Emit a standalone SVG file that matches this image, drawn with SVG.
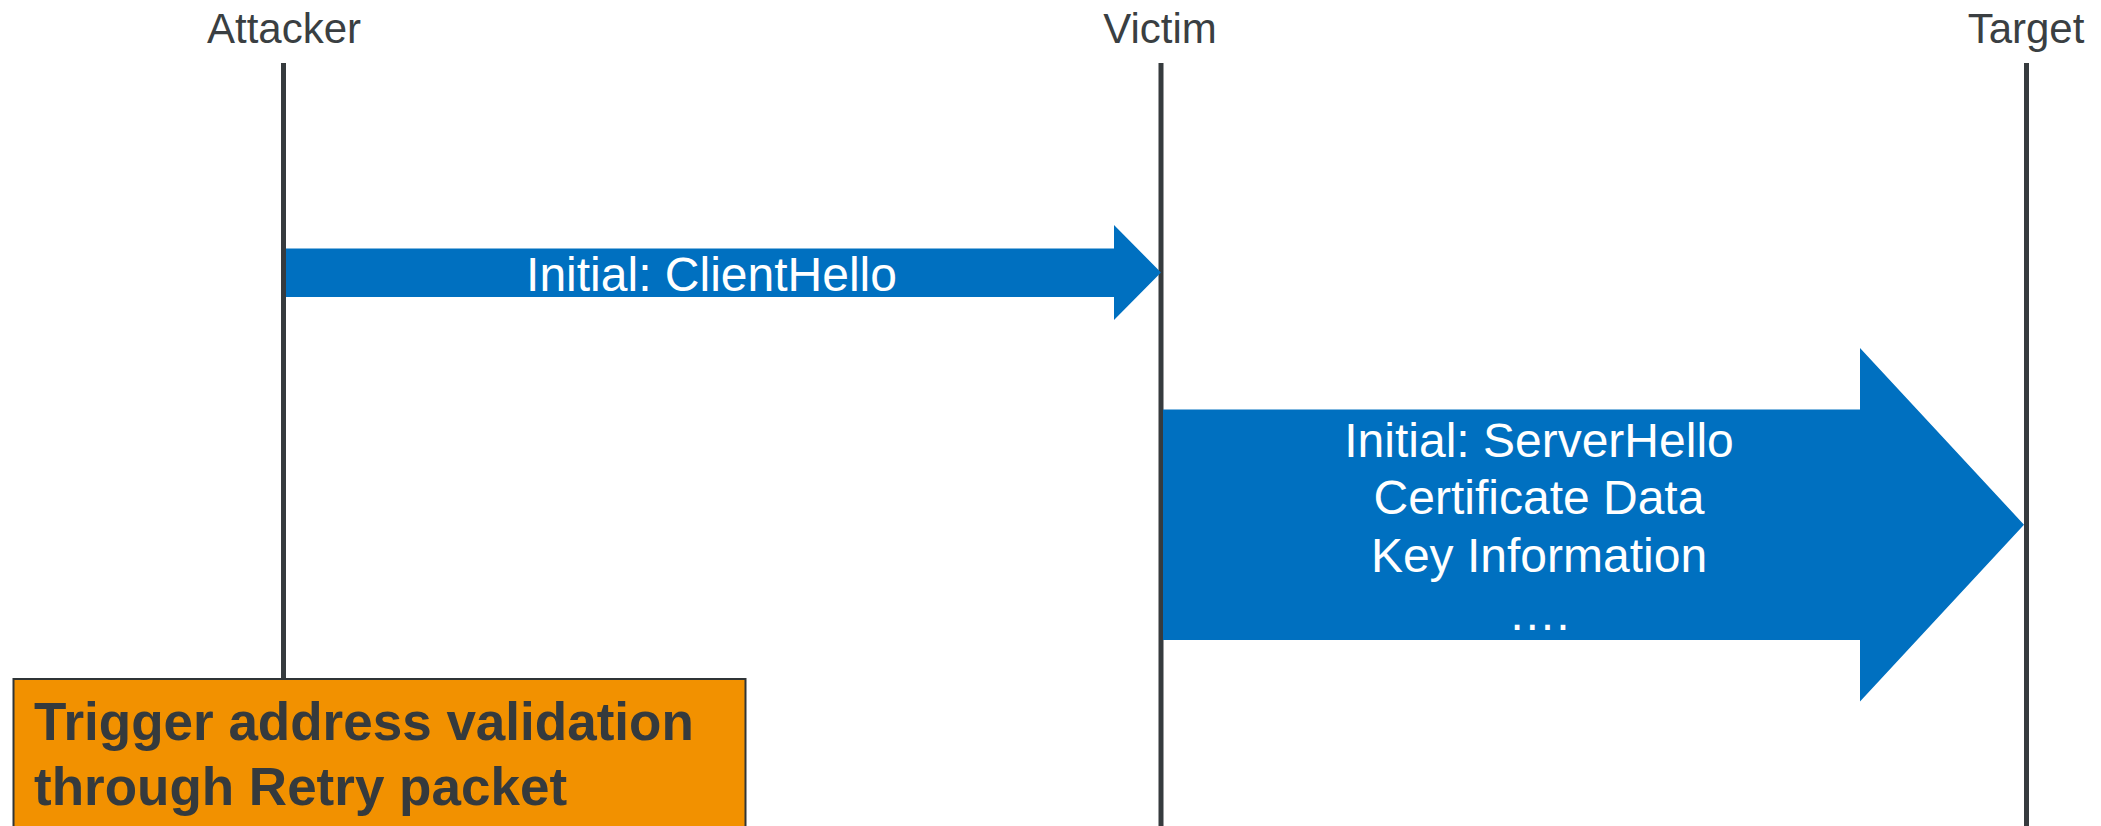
<svg xmlns="http://www.w3.org/2000/svg" width="2101" height="826" viewBox="0 0 2101 826">
  <style>
    .lifeline { stroke: #363b3e; stroke-width: 5; fill: none; }
    .actor { font-family: "Liberation Sans", Arial, sans-serif; font-size: 42px; fill: #3a3f42; text-anchor: middle; }
    .msg { fill: #0070c0; }
    .msg-text { font-family: "Liberation Sans", Arial, sans-serif; font-size: 48px; fill: #ffffff; text-anchor: middle; }
    .note { fill: #f29100; stroke: #2f3436; stroke-width: 2; }
    .note-text { font-family: "Liberation Sans", Arial, sans-serif; font-size: 53px; font-weight: bold; fill: #353a3d; }
  </style>

  <!-- Participants with their lifelines -->
  <g id="attacker">
    <text class="actor" x="284" y="43">Attacker</text>
    <line class="lifeline" x1="283.5" y1="63" x2="283.5" y2="679"/>
  </g>
  <g id="victim">
    <text class="actor" x="1160" y="43">Victim</text>
    <line class="lifeline" x1="1161" y1="63" x2="1161" y2="826"/>
  </g>
  <g id="target">
    <text class="actor" x="2026" y="43">Target</text>
    <line class="lifeline" x1="2026.5" y1="63" x2="2026.5" y2="826"/>
  </g>

  <!-- Messages drawn as block arrows -->
  <g id="connectors">
    <g id="client-hello">
      <polygon class="msg" points="286,248.5 1114,248.5 1114,225 1161,272.5 1114,320 1114,297 286,297"/>
      <text class="msg-text" x="711.5" y="291">Initial: ClientHello</text>
    </g>
    <g id="server-hello">
      <polygon class="msg" points="1163,409.5 1860,409.5 1860,348 2024,524.7 1860,701.5 1860,640 1163,640"/>
      <text class="msg-text" x="1539" y="456.5">Initial: ServerHello</text>
      <text class="msg-text" x="1539" y="514">Certificate Data</text>
      <text class="msg-text" x="1539" y="571.5">Key Information</text>
      <text class="msg-text" x="1539" y="630">….</text>
    </g>
  </g>

  <!-- Note attached to the attacker lifeline -->
  <g id="retry-note">
    <rect class="note" x="13.5" y="679" width="732" height="170"/>
    <text class="note-text" x="34" y="740">Trigger address validation</text>
    <text class="note-text" x="34" y="805">through Retry packet</text>
  </g>
</svg>
